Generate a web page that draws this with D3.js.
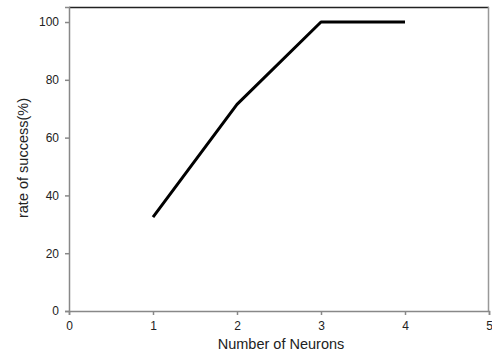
<!DOCTYPE html>
<html>
<head>
<meta charset="utf-8">
<script src="https://cdn.jsdelivr.net/npm/d3@7"></script>
<style>
  body { margin: 0; background: #fff; }
  text { font-family: "Liberation Sans", Arial, sans-serif; fill: #222; }
</style>
</head>
<body>
<div id="chart"></div>
<script>
// data
const neurons = [1, 2, 3, 4];
const successRate = [32.5, 71.5, 100, 100];
const xTicks = [0, 1, 2, 3, 4, 5];
const yTicks = [0, 20, 40, 60, 80, 100];

const width = 492, height = 356;
const margin = {top: 7, right: 3, bottom: 45, left: 69};
const w = width - margin.left - margin.right;
const h = height - margin.top - margin.bottom;

const svg = d3.select('#chart').append('svg')
  .attr('width', width)
  .attr('height', height);

const g = svg.append('g')
  .attr('transform', 'translate(' + margin.left + ',' + margin.top + ')');

// SCALES
const x = d3.scaleLinear().domain([0, 5]).range([0, w]);
const y = d3.scaleLinear().domain([0, 105.2]).range([h, 0]);

// frame: top black, right gray
g.append('line')
  .attr('x1', 0).attr('x2', w).attr('y1', 0.5).attr('y2', 0.5)
  .attr('stroke', '#222').attr('stroke-width', 1.5);
g.append('line')
  .attr('x1', w - 0.5).attr('x2', w - 0.5).attr('y1', 0).attr('y2', h)
  .attr('stroke', '#999').attr('stroke-width', 1.5);

// AXES
const xAxis = g.append('g')
  .attr('transform', 'translate(0,' + h + ')')
  .call(d3.axisBottom(x).tickValues(xTicks).tickSize(4).tickPadding(6).tickFormat(d3.format('d')));
xAxis.select('.domain').attr('stroke', '#888').attr('stroke-width', 1.5);
xAxis.selectAll('.tick line').attr('stroke', '#888').attr('stroke-width', 1.5);
xAxis.selectAll('.tick text').style('font-size', '12px').attr('fill', '#222');

const yAxis = g.append('g')
  .call(d3.axisLeft(y).tickValues(yTicks).tickSize(4).tickPadding(6));
yAxis.select('.domain').attr('stroke', '#888').attr('stroke-width', 1.5);
yAxis.selectAll('.tick line').attr('stroke', '#888').attr('stroke-width', 1.5);
yAxis.selectAll('.tick text').style('font-size', '12px').attr('fill', '#222');

// LINE
const pts = neurons.map((n, i) => [n, successRate[i]]);
g.append('path')
  .datum(pts)
  .attr('fill', 'none')
  .attr('stroke', '#000')
  .attr('stroke-width', 3)
  .attr('stroke-linejoin', 'round')
  .attr('d', d3.line().x(d => x(d[0])).y(d => y(d[1])));

// LABELS
svg.append('text')
  .attr('x', 281)
  .attr('y', 349)
  .attr('text-anchor', 'middle')
  .style('font-size', '14.5px')
  .text('Number of Neurons');

svg.append('text')
  .attr('transform', 'translate(28,158) rotate(-90)')
  .attr('text-anchor', 'middle')
  .style('font-size', '14.5px')
  .text('rate of success(%)');
</script>
</body>
</html>
